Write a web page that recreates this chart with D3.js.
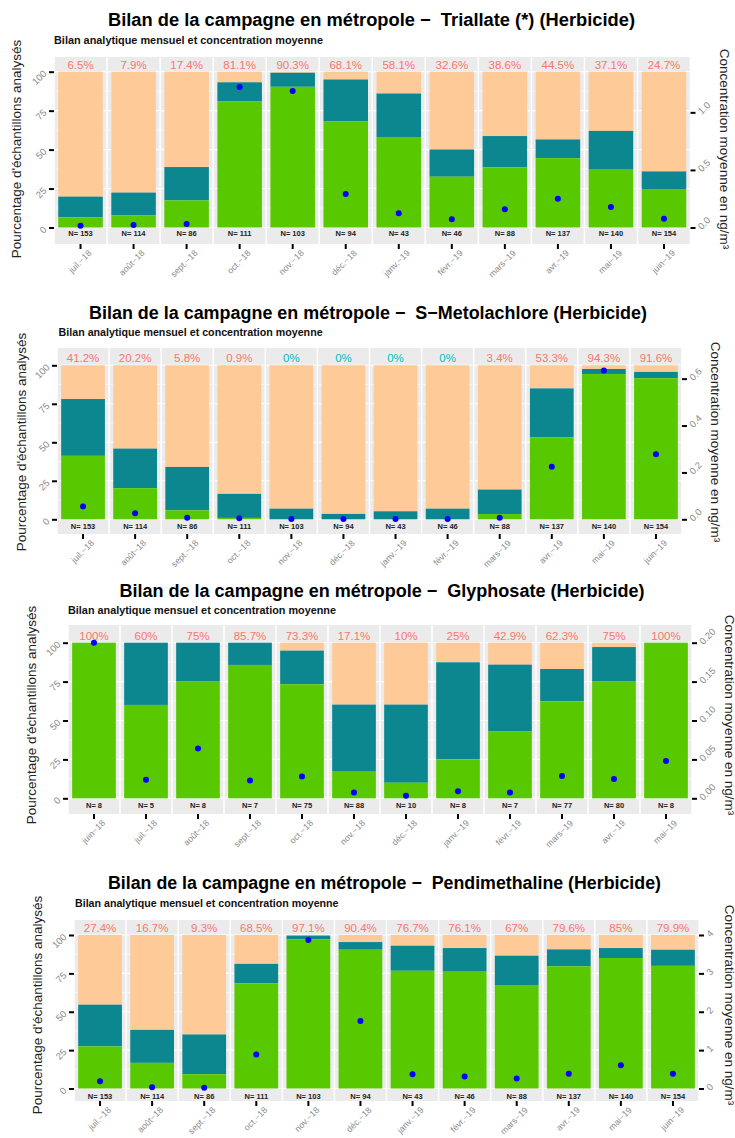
<!DOCTYPE html>
<html><head><meta charset="utf-8">
<script src="https://cdn.jsdelivr.net/npm/d3@7"></script>
<style>
body{margin:0;background:#fff}
text{font-family:"Liberation Sans",Arial,sans-serif}
</style>
</head><body><svg id="c" width="735" height="1138"></svg>
<script>
// ---------- DATA ----------
const monthsJul = ["juil.−18","août−18","sept.−18","oct.−18","nov.−18","déc.−18","janv.−19","févr.−19","mars−19","avr.−19","mai−19","juin−19"];
const monthsJun = ["juin−18","juil.−18","août−18","sept.−18","oct.−18","nov.−18","déc.−18","janv.−19","févr.−19","mars−19","avr.−19","mai−19"];
const nMain   = [153,114,86,111,103,94,43,46,88,137,140,154];
const nGlypho = [8,5,8,7,75,88,10,8,7,77,80,8];

const quantTriallate  = [6.5,7.9,17.4,81.1,90.3,68.1,58.1,32.6,38.6,44.5,37.1,24.7];
const detectTriallate = [19.8,22.4,38.8,93.2,99.3,95,86,50.1,58.7,56.5,62,36];
const concTriallate   = [0.016,0.022,0.03,1.22,1.185,0.29,0.123,0.071,0.158,0.25,0.178,0.076];
const ticksTriallate  = [0,0.5,1.0];

const quantMetola  = [41.2,20.2,5.8,0.9,0,0,0,0,3.4,53.3,94.3,91.6];
const detectMetola = [78.1,45.9,34,16.5,6.9,3.5,5.2,6.9,19.3,85,97.6,95.7];
const concMetola   = [0.055,0.026,0.007,0.004,0.001,0.001,0.001,0.001,0.007,0.224,0.635,0.277];
const ticksMetola  = [0,0.2,0.4,0.6];

const quantGlypho  = [100,60,75,85.7,73.3,17.1,10,25,42.9,62.3,75,100];
const detectGlypho = [100,100,100,100,94.9,60.2,60.2,87.4,85.9,83.1,97.2,100];
const concGlypho   = [0.2,0.024,0.064,0.023,0.028,0.0073,0.0034,0.009,0.0073,0.0287,0.0248,0.048];
const ticksGlypho  = [0,0.05,0.10,0.15,0.20];

const quantPendi  = [27.4,16.7,9.3,68.5,97.1,90.4,76.7,76.1,67,79.6,85,79.9];
const detectPendi = [54.6,38.2,35.2,81.2,99.6,95.4,93,91.5,86.5,90.6,91.5,90.4];
const concPendi   = [0.19,0.035,0.017,0.887,3.87,1.757,0.374,0.313,0.26,0.383,0.609,0.383];
const ticksPendi  = [0,1,2,3,4];

const titles = [
  "Bilan de la campagne en métropole −  Triallate (*) (Herbicide)",
  "Bilan de la campagne en métropole −  S−Metolachlore (Herbicide)",
  "Bilan de la campagne en métropole −  Glyphosate (Herbicide)",
  "Bilan de la campagne en métropole −  Pendimethaline (Herbicide)"
];
const subtitle = "Bilan analytique mensuel et concentration moyenne";
const yTitleL = "Pourcentage d'échantillons analysés";
const yTitleR = "Concentration moyenne en ng/m³";

// ---------- LAYOUT ----------
const panels = [
  {months:monthsJul, n:nMain, q:quantTriallate, d:detectTriallate, c:concTriallate, cmax:1.353, rt:ticksTriallate, rf:d3.format(".1f"),
   title:titles[0], tx:371.5, ty:20, tw:527, sx:54, sy:40, sw:269,
   left:54, right:690.5, top:57, bottom:244, y0:227.5, y100:71.7, pctY:65, nY:233, ytx:16, rtx:724, cy:149},
  {months:monthsJul, n:nMain, q:quantMetola, d:detectMetola, c:concMetola, cmax:0.657, rt:ticksMetola, rf:d3.format(".1f"),
   title:titles[1], tx:368, ty:312.7, tw:558, sx:58.6, sy:332.7, sw:264,
   left:57, right:682, top:348, bottom:534, y0:519.3, y100:365.3, pctY:358.3, nY:526, ytx:21.7, rtx:715, cy:442},
  {months:monthsJun, n:nGlypho, q:quantGlypho, d:detectGlypho, c:concGlypho, cmax:0.2, rt:ticksGlypho, rf:d3.format(".2f"),
   title:titles[2], tx:382, ty:590.7, tw:525, sx:68, sy:610.7, sw:268,
   left:68, right:692, top:625, bottom:814, y0:798.3, y100:642.7, pctY:635.7, nY:805.3, ytx:31.7, rtx:729, cy:715},
  {months:monthsJul, n:nMain, q:quantPendi, d:detectPendi, c:concPendi, cmax:4.0, rt:ticksPendi, rf:d3.format("d"),
   title:titles[3], tx:384.5, ty:883.3, tw:553, sx:75, sy:903.3, sw:263.5,
   left:74, right:699, top:920, bottom:1101, y0:1088.5, y100:935, pctY:928.3, nY:1096, ytx:37.3, rtx:729, cy:1005}
];

const COL = {q:"#58C900", d:"#0C8790", rest:"#FDCA98", bg:"#EBEBEB", dot:"#0000FF", pct:"#F8766D", zero:"#00BFC4"};

const svg = d3.select("#c");

panels.forEach(p => {
  const g = svg.append("g");
  const xF = d3.scaleBand().domain(p.months).range([p.left,p.right]).paddingInner(0.028).paddingOuter(0.014);
  const xB = d3.scaleBand().domain(p.months).range([p.left,p.right]).paddingInner(0.16).paddingOuter(0.08);
  const yL = d3.scaleLinear().domain([0,100]).range([p.y0,p.y100]);
  const yR = d3.scaleLinear().domain([0,p.cmax]).range([p.y0,p.y100]);
  const rows = p.months.map((m,i)=>({m, n:p.n[i], q:p.q[i], d:p.d[i], c:p.c[i]}));

  // titles
  g.append("text").attr("x",p.tx).attr("y",p.ty).attr("text-anchor","middle").attr("dominant-baseline","central")
    .attr("font-size",18).attr("font-weight","bold").attr("fill","#000").style("white-space","pre")
    .attr("textLength",p.tw).attr("lengthAdjust","spacingAndGlyphs").text(p.title);
  g.append("text").attr("x",p.sx).attr("y",p.sy).attr("dominant-baseline","central")
    .attr("font-size",10).attr("font-weight","bold").attr("fill","#111")
    .attr("textLength",p.sw).attr("lengthAdjust","spacingAndGlyphs").text(subtitle);

  // facet backgrounds
  g.selectAll(".bg").data(rows).join("rect")
    .attr("x",d=>xF(d.m)).attr("width",xF.bandwidth()).attr("y",p.top).attr("height",p.bottom-p.top).attr("fill",COL.bg);

  // gridlines
  rows.forEach(d=>{
    [12.5,37.5,62.5,87.5].forEach(v=>g.append("line").attr("x1",xF(d.m)).attr("x2",xF(d.m)+xF.bandwidth())
      .attr("y1",yL(v)).attr("y2",yL(v)).attr("stroke","#fff").attr("stroke-width",0.5));
    [0,25,50,75,100].forEach(v=>g.append("line").attr("x1",xF(d.m)).attr("x2",xF(d.m)+xF.bandwidth())
      .attr("y1",yL(v)).attr("y2",yL(v)).attr("stroke","#fff").attr("stroke-width",1.1));
  });

  // stacked bars
  g.selectAll(".r").data(rows).join("rect").attr("x",d=>xB(d.m)).attr("width",xB.bandwidth())
    .attr("y",d=>yL(100)).attr("height",d=>yL(d.d)-yL(100)).attr("fill",COL.rest);
  g.selectAll(".t").data(rows).join("rect").attr("x",d=>xB(d.m)).attr("width",xB.bandwidth())
    .attr("y",d=>yL(d.d)).attr("height",d=>yL(d.q)-yL(d.d)).attr("fill",COL.d);
  g.selectAll(".gq").data(rows).join("rect").attr("x",d=>xB(d.m)).attr("width",xB.bandwidth())
    .attr("y",d=>yL(d.q)).attr("height",d=>yL(0)-yL(d.q)).attr("fill",COL.q);

  // dots
  g.selectAll(".dot").data(rows).join("circle").attr("cx",d=>xB(d.m)+xB.bandwidth()/2).attr("cy",d=>yR(d.c))
    .attr("r",3).attr("fill",COL.dot);

  // percentage labels
  g.selectAll(".pct").data(rows).join("text").attr("x",d=>xF(d.m)+xF.bandwidth()/2).attr("y",p.pctY)
    .attr("text-anchor","middle").attr("dominant-baseline","central").attr("font-size",11.5)
    .attr("fill",d=>d.q===0?COL.zero:COL.pct).text(d=>d.q+"%");
  // N labels
  g.selectAll(".nl").data(rows).join("text").attr("x",d=>xF(d.m)+xF.bandwidth()/2).attr("y",p.nY)
    .attr("text-anchor","middle").attr("dominant-baseline","central").attr("font-size",7.5).attr("font-weight","bold")
    .attr("fill","#222").text(d=>"N= "+d.n);

  // left axis
  const aL = g.append("g").attr("transform",`translate(${p.left},0)`)
    .call(d3.axisLeft(yL).tickValues([0,25,50,75,100]).tickSize(5).tickPadding(4));
  aL.select(".domain").remove();
  aL.selectAll(".tick line").attr("stroke","#000").attr("stroke-width",2);
  aL.selectAll(".tick text").attr("font-size",9.5).attr("fill","#8a8a8a").attr("font-family","Liberation Sans, Arial")
    .attr("dy","0.32em").attr("transform","rotate(-45,-9,0)");

  // right axis
  const aR = g.append("g").attr("transform",`translate(${p.right},0)`)
    .call(d3.axisRight(yR).tickValues(p.rt).tickFormat(p.rf).tickSize(5).tickPadding(4));
  aR.select(".domain").remove();
  aR.selectAll(".tick line").attr("stroke","#000").attr("stroke-width",2);
  aR.selectAll(".tick text").attr("font-size",9.5).attr("fill","#8a8a8a").attr("font-family","Liberation Sans, Arial")
    .attr("dy","0.32em").attr("transform","rotate(-45,9,0)");

  // x axis
  const aX = g.append("g").attr("transform",`translate(0,${p.bottom})`)
    .call(d3.axisBottom(xF).tickSize(5).tickPadding(1));
  aX.select(".domain").remove();
  aX.selectAll(".tick line").attr("stroke","#000").attr("stroke-width",2);
  aX.selectAll(".tick text").attr("font-size",8.8).attr("fill","#8a8a8a").attr("font-family","Liberation Sans, Arial")
    .attr("text-anchor","end").attr("dy","0.55em").attr("transform","translate(4,2) rotate(-45)");

  // axis titles
  g.append("text").attr("transform",`translate(${p.ytx},${p.cy}) rotate(-90)`).attr("text-anchor","middle")
    .attr("dominant-baseline","central").attr("font-size",13.5).attr("fill","#222").text(yTitleL);
  g.append("text").attr("transform",`translate(${p.rtx},${p.cy}) rotate(90)`).attr("text-anchor","middle")
    .attr("dominant-baseline","central").attr("font-size",13.5).attr("fill","#222").text(yTitleR);
});
</script></body></html>
